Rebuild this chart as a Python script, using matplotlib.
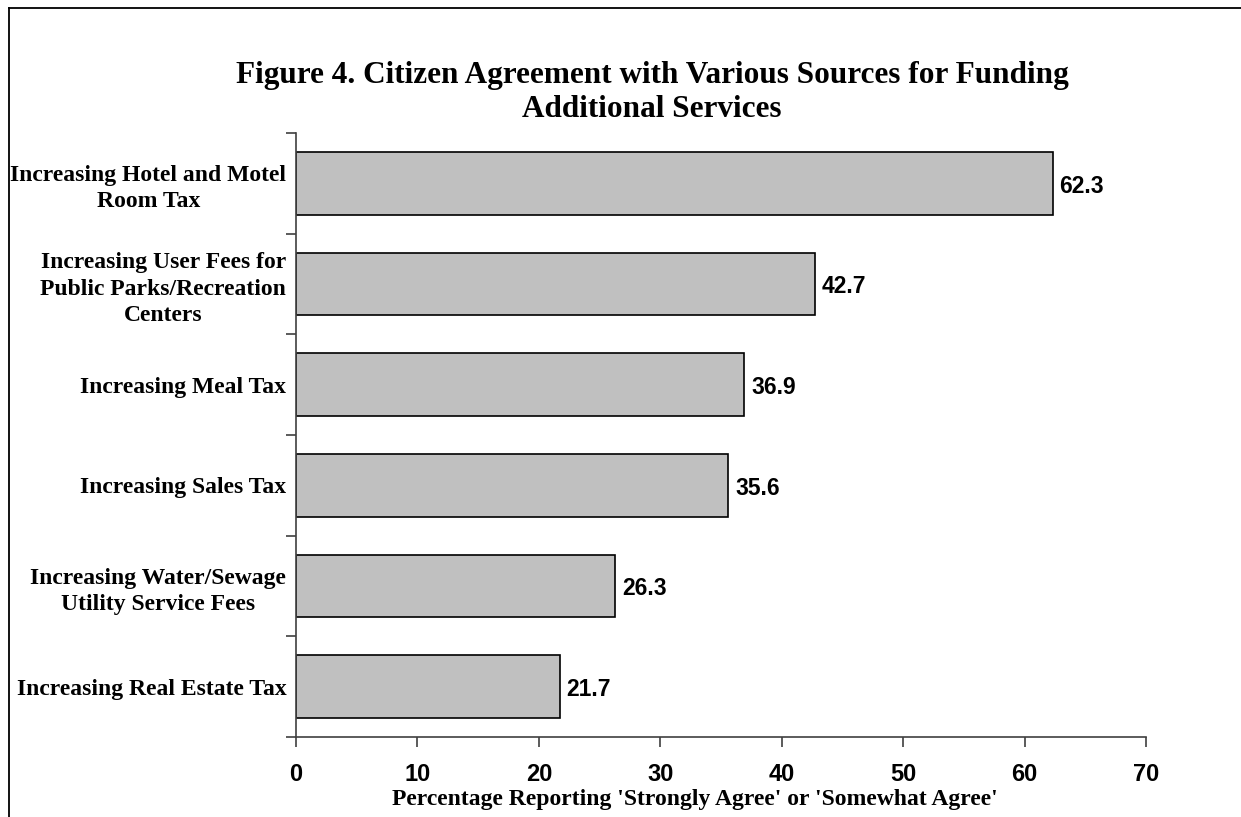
"""Citizen agreement with funding sources - horizontal bar chart."""
import matplotlib
matplotlib.use("Agg")
import matplotlib.pyplot as plt
from matplotlib.lines import Line2D

kategoriler = [
    "Increasing Hotel and Motel\nRoom Tax",
    "Increasing User Fees for\nPublic Parks/Recreation\nCenters",
    "Increasing Meal Tax",
    "Increasing Sales Tax",
    "Increasing Water/Sewage\nUtility Service Fees",
    "Increasing Real Estate Tax",
]
yuzdeler = [62.3, 42.7, 36.9, 35.6, 26.3, 21.7]
x_ticks = [0, 10, 20, 30, 40, 50, 60, 70]

SERIF = ["Liberation Serif", "DejaVu Serif"]
SANS = ["Liberation Sans", "DejaVu Sans"]

fig = plt.figure(figsize=(12.41, 8.17), dpi=100)
ax = fig.add_axes([0.2385, 0.0979, 0.6850, 0.7393])

n = len(kategoriler)
ypos = list(range(n))
ax.barh(ypos, yuzdeler, height=0.62, color="#C0C0C0",
        edgecolor="black", linewidth=1.2, zorder=2)

# bar value labels
for y, v in zip(ypos, yuzdeler):
    ax.annotate(f"{v:.1f}", (v, y), xytext=(5, -2), textcoords="offset points",
                va="center", ha="left", fontsize=16.5, fontweight="bold",
                family=SANS)

ax.set_ylim(n - 0.5, -0.5)
ax.set_xlim(0, 70)

# category labels at centers, tick marks at the boundaries
ax.set_yticks(ypos)
ax.set_yticklabels(kategoriler, fontsize=17, fontweight="bold", family=SERIF,
                   multialignment="center", linespacing=1.35)
ax.set_yticks([i - 0.5 for i in range(n + 1)], minor=True)
ax.tick_params(axis="y", which="major", length=0, pad=7)
ax.tick_params(axis="y", which="minor", length=7, width=1.2, color="#404040",
               direction="out")

ax.set_xticks(x_ticks)
ax.set_xticklabels([str(t) for t in x_ticks], fontsize=17, fontweight="bold",
                   family=SANS)
ax.tick_params(axis="x", length=7, width=1.2, color="#404040", pad=12)

for s in ["top", "right"]:
    ax.spines[s].set_visible(False)
for s in ["left", "bottom"]:
    ax.spines[s].set_color("#404040")
    ax.spines[s].set_linewidth(1.2)

fig.text(0.5254, 0.887,
         "Figure 4. Citizen Agreement with Various Sources for Funding\nAdditional Services",
         ha="center", va="center", fontsize=22.5, fontweight="bold", family=SERIF,
         linespacing=1.2)
fig.text(0.56, 0.021,
         "Percentage Reporting 'Strongly Agree' or 'Somewhat Agree'",
         ha="center", va="center", fontsize=17, fontweight="bold", family=SERIF)

# outer frame (left and top edges)
fx = 9 / 1241
fy = 1 - 8 / 817
fig.add_artist(Line2D([fx, fx], [0, fy], color="black", linewidth=1.3,
                      transform=fig.transFigure))
fig.add_artist(Line2D([fx, 1], [fy, fy], color="black", linewidth=1.3,
                      transform=fig.transFigure))

fig.savefig("out.png", dpi=100)
